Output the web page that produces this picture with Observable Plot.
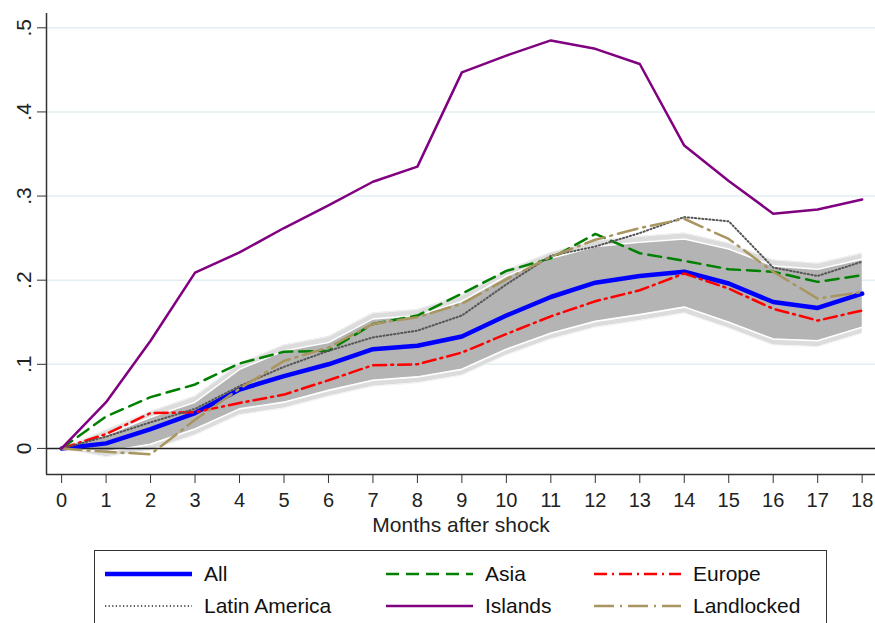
<!DOCTYPE html>
<html>
<head>
<meta charset="utf-8">
<script src="https://cdn.jsdelivr.net/npm/d3@7"></script>
<script src="https://cdn.jsdelivr.net/npm/@observablehq/plot@0.6"></script>
<style>
  html, body { margin: 0; padding: 0; background: #fff; }
  #wrap { position: relative; width: 875px; height: 623px; overflow: hidden; font-family: "Liberation Sans", Arial, sans-serif; }
  #legend { position: absolute; left: 94px; top: 550px; width: 733px; height: 100px; border: 1.5px solid #333; box-sizing: border-box; }
  .item { position: absolute; height: 30px; display: flex; align-items: center; font-size: 21px; color: #111; }
  .item svg { margin-right: 12px; }
</style>
</head>
<body>
<div id="wrap">
  <div id="chart"></div>
  <div id="legend"></div>
</div>
<script>
const months = [0,1,2,3,4,5,6,7,8,9,10,11,12,13,14,15,16,17,18];
const allSeries = [0, 0.006, 0.023, 0.042, 0.070, 0.086, 0.100, 0.118, 0.122, 0.133, 0.158, 0.180, 0.197, 0.205, 0.210, 0.196, 0.174, 0.167, 0.184];
const asia = [0, 0.038, 0.061, 0.076, 0.101, 0.115, 0.116, 0.148, 0.158, 0.184, 0.211, 0.226, 0.255, 0.232, 0.223, 0.213, 0.210, 0.198, 0.206];
const europe = [0, 0.017, 0.042, 0.043, 0.054, 0.064, 0.081, 0.099, 0.100, 0.114, 0.136, 0.157, 0.175, 0.188, 0.208, 0.190, 0.166, 0.152, 0.164];
const latinAmerica = [0, 0.014, 0.031, 0.047, 0.074, 0.097, 0.116, 0.132, 0.140, 0.158, 0.195, 0.229, 0.240, 0.256, 0.275, 0.270, 0.215, 0.205, 0.222];
const islands = [0, 0.055, 0.128, 0.209, 0.233, 0.262, 0.289, 0.317, 0.335, 0.447, 0.467, 0.485, 0.475, 0.457, 0.360, 0.318, 0.279, 0.284, 0.296];
const landlocked = [0, -0.004, -0.007, 0.034, 0.071, 0.104, 0.120, 0.148, 0.156, 0.172, 0.201, 0.228, 0.248, 0.262, 0.273, 0.249, 0.210, 0.178, 0.186];
const ciLow = [0, -0.004, 0.005, 0.023, 0.047, 0.055, 0.069, 0.081, 0.085, 0.094, 0.118, 0.137, 0.151, 0.159, 0.168, 0.150, 0.130, 0.128, 0.144];
const ciHigh = [0, 0.016, 0.037, 0.055, 0.094, 0.116, 0.126, 0.154, 0.158, 0.175, 0.205, 0.226, 0.240, 0.245, 0.249, 0.237, 0.217, 0.213, 0.225];
const outerLow = [0, -0.010, -0.002, 0.016, 0.040, 0.048, 0.062, 0.074, 0.078, 0.087, 0.111, 0.130, 0.144, 0.152, 0.161, 0.143, 0.123, 0.121, 0.137];
const outerHigh = [0, 0.022, 0.044, 0.062, 0.101, 0.123, 0.133, 0.161, 0.165, 0.182, 0.212, 0.233, 0.247, 0.252, 0.256, 0.244, 0.224, 0.220, 0.232];
const xTicks = months;
const yTicks = [0, 0.1, 0.2, 0.3, 0.4, 0.5];
const yTickLabels = ["0", ".1", ".2", ".3", ".4", ".5"];
const xTitle = "Months after shock";

const seriesDefs = [
  {name: "All", values: allSeries, color: "#0000ff", width: 4.5, dash: null},
  {name: "Asia", values: asia, color: "#008000", width: 2.5, dash: "13,7"},
  {name: "Europe", values: europe, color: "#ff0000", width: 2.5, dash: "13,5,2,5"},
  {name: "Latin America", values: latinAmerica, color: "#555555", width: 2, dash: "1.2,2.4"},
  {name: "Islands", values: islands, color: "#800080", width: 2.5, dash: null},
  {name: "Landlocked", values: landlocked, color: "#a8955f", width: 2.5, dash: "20,6,2,6"}
];

const band = months.map((m, i) => ({m, lo: ciLow[i], hi: ciHigh[i], olo: outerLow[i], ohi: outerHigh[i]}));

const lineMarks = [];
for (const s of [seriesDefs[0], seriesDefs[1], seriesDefs[2], seriesDefs[3], seriesDefs[5], seriesDefs[4]]) {
  const rows = months.map((m, i) => ({m, v: s.values[i]}));
  lineMarks.push(Plot.lineY(rows, {x: "m", y: "v", stroke: s.color, strokeWidth: s.width, strokeDasharray: s.dash || undefined, strokeLinejoin: "round"}));
}

const chart = Plot.plot({
  width: 875,
  height: 548,
  marginLeft: 46,
  marginRight: 0,
  marginTop: 13,
  marginBottom: 74,
  style: {fontFamily: "'Liberation Sans', Arial, sans-serif", background: "#fff", color: "#222"},
  x: {domain: [-0.34, 18.3]},
  y: {domain: [-0.031, 0.517]},
  marks: [
    Plot.gridY(yTicks.slice(1), {stroke: "#e3eef2", strokeOpacity: 1, strokeWidth: 1.5}),
    Plot.areaY(band, {x: "m", y1: "olo", y2: "ohi", fill: "#dcdcdc"}),
    Plot.lineY(band, {x: "m", y: "olo", stroke: "#f2f2f2", strokeWidth: 1}),
    Plot.lineY(band, {x: "m", y: "ohi", stroke: "#f2f2f2", strokeWidth: 1}),
    Plot.areaY(band, {x: "m", y1: "lo", y2: "hi", fill: "#b4b4b4"}),
    Plot.lineY(band, {x: "m", y: "lo", stroke: "#ffffff", strokeWidth: 1.6}),
    Plot.lineY(band, {x: "m", y: "hi", stroke: "#ffffff", strokeWidth: 1.6}),
    Plot.ruleY([0], {stroke: "#222", strokeWidth: 1.5}),
    ...lineMarks,
    Plot.ruleX([-0.34], {stroke: "#333", strokeWidth: 1.5}),
    Plot.ruleY([-0.031], {stroke: "#333", strokeWidth: 1.5}),
    Plot.axisX(xTicks, {tickSize: 9, tickPadding: 9, fontSize: 20, stroke: "#333", label: null, tickFormat: d => String(d)}),
    Plot.axisY(yTicks, {tickSize: 9, tickFormat: () => "", stroke: "#333", label: null}),
    Plot.text(yTicks, {y: d => d, text: (d, i) => yTickLabels[i], frameAnchor: "left", dx: -22, rotate: -90, textAnchor: "middle", fontSize: 21, fill: "#222"}),
    Plot.text([xTitle], {text: d => d, frameAnchor: "bottom", dy: 57, textAnchor: "middle", fontSize: 21, fill: "#222"})
  ]
});
document.getElementById("chart").appendChild(chart);

// Legend
const legend = document.getElementById("legend");
const legendOrder = [
  {s: seriesDefs[0], col: 0, row: 0},
  {s: seriesDefs[1], col: 1, row: 0},
  {s: seriesDefs[2], col: 2, row: 0},
  {s: seriesDefs[3], col: 0, row: 1},
  {s: seriesDefs[4], col: 1, row: 1},
  {s: seriesDefs[5], col: 2, row: 1}
];
const colLeft = [10, 291, 499];
const rowTop = [8, 40];
for (const it of legendOrder) {
  const div = document.createElement("div");
  div.className = "item";
  div.style.left = colLeft[it.col] + "px";
  div.style.top = rowTop[it.row] + "px";
  const ns = "http://www.w3.org/2000/svg";
  const svg = document.createElementNS(ns, "svg");
  svg.setAttribute("width", 87);
  svg.setAttribute("height", 12);
  const ln = document.createElementNS(ns, "line");
  ln.setAttribute("x1", 0); ln.setAttribute("x2", 87);
  ln.setAttribute("y1", 6); ln.setAttribute("y2", 6);
  ln.setAttribute("stroke", it.s.color);
  ln.setAttribute("stroke-width", it.s.width);
  if (it.s.dash) ln.setAttribute("stroke-dasharray", it.s.dash);
  svg.appendChild(ln);
  div.appendChild(svg);
  const span = document.createElement("span");
  span.textContent = it.s.name;
  div.appendChild(span);
  legend.appendChild(div);
}
</script>
</body>
</html>
